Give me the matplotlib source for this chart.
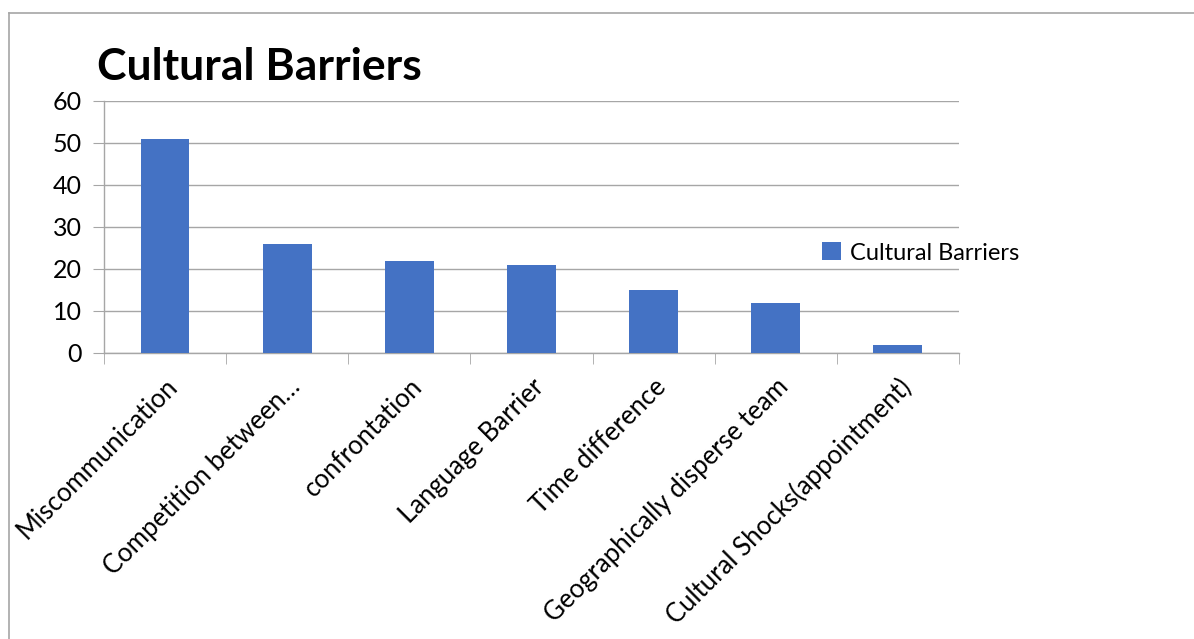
import matplotlib.pyplot as plt
from matplotlib.lines import Line2D

# chart data
categories = ['Miscommunication', 'Competition between…', 'confrontation',
              'Language Barrier', 'Time difference',
              'Geographically disperse team', 'Cultural Shocks(appointment)']
values = [51, 26, 22, 21, 15, 12, 2]
series_name = 'Cultural Barriers'

plt.rcParams['font.family'] = ['Lato', 'DejaVu Sans']

W, H = 1194, 639
fig = plt.figure(figsize=(W / 100, H / 100), dpi=100)
ax = fig.add_axes([104 / W, 1 - 353 / H, (959 - 104) / W, (353 - 101) / H])

grey = '#A6A6A6'
x = list(range(len(categories)))
ax.bar(x, values, width=0.4, color='#4472C4', label=series_name, zorder=3)

ax.set_xlim(-0.5, len(categories) - 0.5)
ax.set_ylim(0, 60)
ax.set_yticks(range(0, 61, 10))
ax.grid(axis='y', color=grey, linewidth=1, zorder=0)

for s in ['top', 'right']:
    ax.spines[s].set_visible(False)
for s in ['left', 'bottom']:
    ax.spines[s].set_color(grey)
    ax.spines[s].set_linewidth(1)

ax.tick_params(axis='y', length=8, color=grey, labelsize=18, pad=8)
ax.set_xticks(x)
ax.set_xticklabels(categories, rotation=45, ha='right', rotation_mode='anchor', fontsize=18.5)
ax.tick_params(axis='x', length=0, pad=15)
# tick marks between categories, like the original
ax.set_xticks([i - 0.5 for i in range(len(categories) + 1)], minor=True)
ax.tick_params(axis='x', which='minor', length=8, color=grey)

fig.text(97 / W, 1 - 80 / H, 'Cultural Barriers', fontsize=32, fontweight='bold')

ax.legend(loc='center left', bbox_to_anchor=((822 - 104) / 855, 1 - (253 - 101) / (353 - 101)),
          frameon=False, fontsize=17, handlelength=0.8, handleheight=0.8,
          handletextpad=0.4, borderaxespad=0, borderpad=0)

# outer chart border (only top and left visible in the original)
fig.add_artist(Line2D([9 / W, 1], [1 - 13 / H, 1 - 13 / H], color=grey, lw=1.2))
fig.add_artist(Line2D([9 / W, 9 / W], [0, 1 - 13 / H], color=grey, lw=1.2))

plt.savefig('out.png', dpi=100)
plt.close()
